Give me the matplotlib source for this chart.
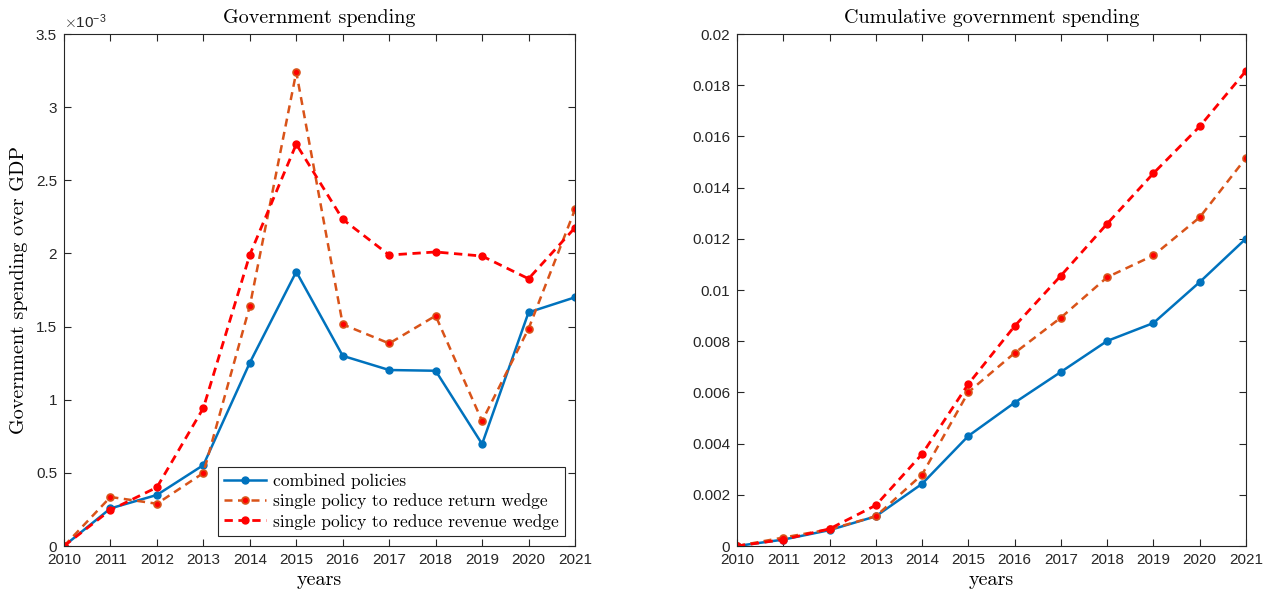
import numpy as np
import matplotlib as mpl
mpl.use('Agg')
import matplotlib.pyplot as plt
from matplotlib.ticker import FuncFormatter

# MATLAB default line colours
C_BLUE = '#0072BD'
C_ORANGE = '#D95319'
C_RED = '#FF0000'

years = np.arange(2010, 2022)

# yearly government spending over GDP
spend_combined = [0, 0.257e-3, 0.349e-3, 0.553e-3, 1.253e-3, 1.875e-3,
                  1.300e-3, 1.203e-3, 1.198e-3, 0.697e-3, 1.597e-3, 1.700e-3]
spend_return = [0, 0.335e-3, 0.289e-3, 0.499e-3, 1.640e-3, 3.240e-3,
                1.515e-3, 1.385e-3, 1.574e-3, 0.854e-3, 1.485e-3, 2.301e-3]
spend_revenue = [0, 0.246e-3, 0.401e-3, 0.943e-3, 1.991e-3, 2.747e-3,
                 2.233e-3, 1.989e-3, 2.010e-3, 1.982e-3, 1.827e-3, 2.176e-3]

# cumulative spending
cum_combined = [0, 0.00025, 0.00062, 0.00116, 0.00243, 0.00430,
                0.00560, 0.00680, 0.00801, 0.00871, 0.01031, 0.01201]
cum_return = [0, 0.00033, 0.00065, 0.00116, 0.00279, 0.00601,
              0.00754, 0.00892, 0.01050, 0.01135, 0.01284, 0.01516]
cum_revenue = [0, 0.00025, 0.00067, 0.00159, 0.00359, 0.00633,
               0.00859, 0.01056, 0.01259, 0.01456, 0.01639, 0.01856]

labels = ['combined policies',
          'single policy to reduce return wedge',
          'single policy to reduce revenue wedge']

plt.rcParams['font.family'] = ['Liberation Sans', 'DejaVu Sans']
plt.rcParams['mathtext.fontset'] = 'cm'
SERIF = {'family': 'cmr10'}
AX_COL = '#262626'


def draw_series(ax, a, b, c):
    ax.plot(years, a, '-', color=C_BLUE, lw=1.8, marker='o', ms=5,
            mfc=C_BLUE, mec=C_BLUE, label=labels[0])
    ax.plot(years, b, '--', color=C_ORANGE, lw=1.8, marker='o', ms=5,
            mfc=C_RED, mec=C_ORANGE, mew=1.2, dashes=(3.2, 2.2),
            label=labels[1])
    ax.plot(years, c, '--', color=C_RED, lw=2.0, marker='o', ms=5,
            mfc=C_RED, mec=C_RED, dashes=(3.0, 2.0), label=labels[2])


def style_axes(ax, title):
    ax.set_xlim(2010, 2021)
    ax.set_xticks(years)
    ax.tick_params(direction='in', top=True, right=True, length=5,
                   labelsize=11, colors=AX_COL, labelcolor=AX_COL, pad=5)
    for s in ax.spines.values():
        s.set_color(AX_COL)
        s.set_linewidth(0.8)
    ax.set_title(title, fontdict=SERIF, fontsize=14.5, pad=8)
    ax.set_xlabel('years', fontdict=SERIF, fontsize=14.5, labelpad=3)


fig = plt.figure(figsize=(12.7, 5.94), dpi=100)
W, H = 1270, 594
axL = fig.add_axes([64 / W, 1 - 546 / H, (575 - 64) / W, (546 - 34) / H])
axR = fig.add_axes([737 / W, 1 - 546 / H, (1246 - 737) / W, (546 - 34) / H])

# left: yearly spending
draw_series(axL, spend_combined, spend_return, spend_revenue)
style_axes(axL, 'Government spending')
axL.set_ylim(0, 3.5e-3)
axL.set_yticks(np.arange(0, 3.51e-3, 0.5e-3))
axL.yaxis.set_major_formatter(FuncFormatter(lambda v, p: f'{v * 1e3:g}'))
axL.set_ylabel('Government spending over GDP', fontdict=SERIF, fontsize=14.5,
               labelpad=6)
axL.text(0.0, 1.005, r'$\times\mathregular{10^{-3}}$', transform=axL.transAxes,
         fontsize=11, color=AX_COL, va='bottom', ha='left')
leg = axL.legend(loc='lower right', prop={'family': 'cmr10', 'size': 12.5},
                 fancybox=False, framealpha=1, edgecolor=AX_COL,
                 borderpad=0.35, labelspacing=0.25, handlelength=2.4,
                 handletextpad=0.4, borderaxespad=0.6)
leg.get_frame().set_linewidth(0.8)

# right: cumulative spending
draw_series(axR, cum_combined, cum_return, cum_revenue)
style_axes(axR, 'Cumulative government spending')
axR.set_ylim(0, 0.02)
axR.set_yticks(np.arange(0, 0.0201, 0.002))
axR.yaxis.set_major_formatter(FuncFormatter(lambda v, p: f'{round(v, 4):g}'))

fig.savefig('out.png', dpi=100)
